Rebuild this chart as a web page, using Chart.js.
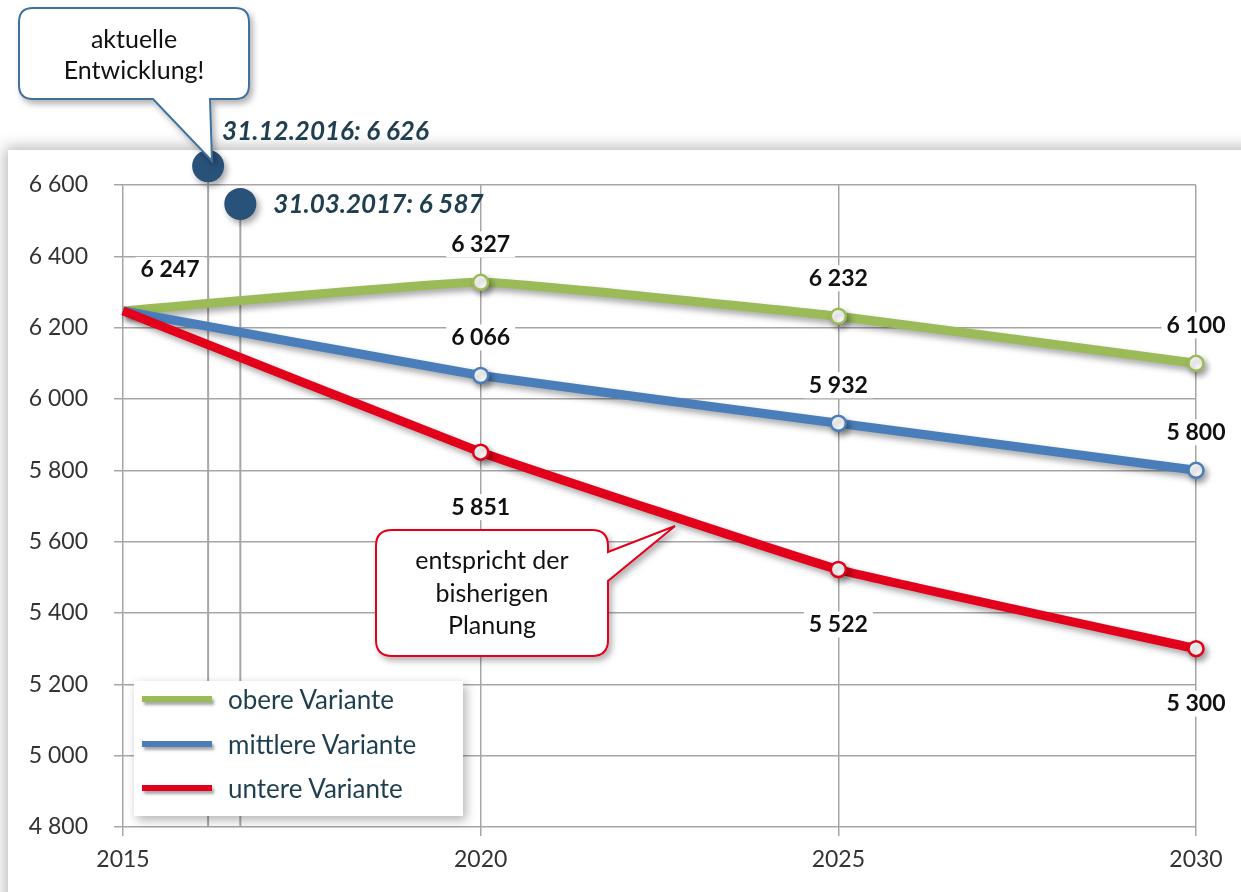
<!DOCTYPE html>
<html lang="de">
<head>
    <meta charset="UTF-8">
    <title>Bevölkerungsprognose 2015-2030</title>
    <script src="https://cdn.jsdelivr.net/npm/chart.js"></script>
    <style>
        body {
            margin: 0;
            width: 1241px;
            height: 892px;
            overflow: hidden;
            background-color: #ffffff;
            font-family: Lato, "Noto Sans", sans-serif;
            position: relative;
        }
        #panel {
            position: absolute;
            left: 8px;
            top: 150px;
            width: 1260px;
            height: 780px;
            background-color: #ffffff;
            box-shadow: 0 0 14px 3px rgba(0, 0, 0, 0.28);
        }
        #chartBox {
            position: absolute;
            left: 0;
            top: 0;
            width: 1241px;
            height: 892px;
        }
        #legend {
            position: absolute;
            left: 134px;
            top: 681px;
            width: 329px;
            height: 135px;
            background-color: #ffffff;
            box-shadow: 3px 4px 10px rgba(0, 0, 0, 0.3);
        }
        .legendItem {
            position: absolute;
            left: 8px;
            height: 34px;
            display: flex;
            align-items: center;
            font-size: 26px;
            color: #1f3f4f;
        }
        .legendItem span.swatch {
            display: inline-block;
            width: 70px;
            height: 6px;
            margin-right: 16px;
            box-shadow: 2px 3px 3px rgba(0, 0, 0, 0.35);
        }
        svg#notes {
            position: absolute;
            left: 0;
            top: 0;
        }
    </style>
</head>
<body>
    <div id="panel"></div>
    <div id="chartBox"><canvas id="popChart"></canvas></div>
    <div id="legend"></div>

    <svg id="notes" width="1241" height="892">
        <defs>
            <filter id="shadow" x="-20%" y="-20%" width="140%" height="150%">
                <feDropShadow dx="3" dy="4" stdDeviation="3" flood-color="#000" flood-opacity="0.3"/>
            </filter>
        </defs>
        <path d="M 33 8 H 235 Q 249 8 249 22 V 85 Q 249 99 235 99 H 210 L 212 161 L 153 99 H 33 Q 19 99 19 85 V 22 Q 19 8 33 8 Z"
              fill="#ffffff" stroke="#41719c" stroke-width="2" filter="url(#shadow)"/>
        <text x="134" y="48" text-anchor="middle" font-family="Lato" font-size="25" fill="#111">aktuelle</text>
        <text x="134" y="79" text-anchor="middle" font-family="Lato" font-size="25" fill="#111">Entwicklung!</text>

        <path d="M 392 530 H 592 Q 608 530 608 546 V 552 L 675 526 L 608 581 V 640 Q 608 656 592 656 H 392 Q 376 656 376 640 V 546 Q 376 530 392 530 Z"
              fill="#ffffff" stroke="#e2001a" stroke-width="2" filter="url(#shadow)"/>
        <text x="492" y="569" text-anchor="middle" font-family="Lato" font-size="25" fill="#111">entspricht der</text>
        <text x="492" y="602" text-anchor="middle" font-family="Lato" font-size="25" fill="#111">bisherigen</text>
        <text x="492" y="634" text-anchor="middle" font-family="Lato" font-size="25" fill="#111">Planung</text>
    </svg>

    <script>
        const years = [2015, 2020, 2025, 2030];
        const obere = [6247, 6327, 6232, 6100];
        const mittlere = [6247, 6066, 5932, 5800];
        const untere = [6247, 5851, 5522, 5300];
        const seriesNames = ['obere Variante', 'mittlere Variante', 'untere Variante'];
        const seriesColors = ['#9bbb59', '#4a7ebb', '#e2001a'];

        // Stichtage (aktuelle Entwicklung), Lage
        const stichtagX = [2016.19, 2016.64];
        const stichtagY = [6653, 6547];
        const stichtagLabels = ['31.12.2016: 6 626', '31.03.2017: 6 587'];

        const yMin = 4800, yMax = 6600, yStep = 200;
        const xMin = 2015, xMax = 2030, xStep = 5;

        function fmt(v) {
            return String(v).replace(/\B(?=(\d{3})+(?!\d))/g, ' ');
        }

        function toPoints(values) {
            return values.map((v, i) => ({ x: years[i], y: v }));
        }

        const seriesValues = [obere, mittlere, untere];
        const datasets = seriesValues.map((vals, i) => ({
            label: seriesNames[i],
            data: toPoints(vals),
            borderColor: seriesColors[i],
            backgroundColor: '#ffffff',
            borderWidth: 9,
            tension: 0.1,
            pointRadius: vals.map((v, j) => j === 0 ? 0 : 7.5),
            pointBorderWidth: 2.5,
            pointBorderColor: seriesColors[i],
            pointBackgroundColor: '#ffffff',
            clip: false,
            order: 2 - i,
        }));

        // senkrechte Linien der Stichtage
        stichtagX.forEach((x, i) => {
            datasets.push({
                label: 'line' + i,
                data: [{ x: x, y: stichtagY[i] }, { x: x, y: yMin }],
                borderColor: '#a6a6a6',
                borderWidth: 2,
                pointRadius: 0,
                clip: false,
                order: 10,
            });
        });

        const shadowPlugin = {
            id: 'shadow',
            beforeDatasetDraw(chart, args) {
                const ds = chart.data.datasets[args.index];
                if (ds.label.startsWith('line')) return;
                const ctx = chart.ctx;
                ctx.save();
                ctx.shadowColor = 'rgba(0, 0, 0, 0.35)';
                ctx.shadowBlur = 6;
                ctx.shadowOffsetX = 3;
                ctx.shadowOffsetY = 4;
            },
            afterDatasetDraw(chart, args) {
                const ds = chart.data.datasets[args.index];
                if (ds.label.startsWith('line')) return;
                chart.ctx.restore();
            }
        };

        const labelPlugin = {
            id: 'valueLabels',
            afterDatasetsDraw(chart) {
                const ctx = chart.ctx;
                const xs = chart.scales.x, ys = chart.scales.y;
                ctx.save();

                // Stichtag-Punkte (liegen teils über der Zeichenfläche)
                ctx.shadowColor = 'rgba(0, 0, 0, 0.35)';
                ctx.shadowBlur = 6;
                ctx.shadowOffsetX = 3;
                ctx.shadowOffsetY = 4;
                ctx.fillStyle = '#29527a';
                stichtagX.forEach((x, i) => {
                    ctx.beginPath();
                    ctx.arc(xs.getPixelForValue(x), ys.getPixelForValue(stichtagY[i]), 16, 0, Math.PI * 2);
                    ctx.fill();
                });
                ctx.shadowColor = 'transparent';

                ctx.textAlign = 'center';
                ctx.textBaseline = 'middle';
                ctx.font = 'bold 23px Lato';
                for (let i = 0; i < 3; i++) {
                    const meta = chart.getDatasetMeta(i);
                    meta.data.forEach((pt, j) => {
                        if (j === 0 && i !== 0) return;
                        const text = fmt(seriesValues[i][j]);
                        let x = pt.x, y = pt.y;
                        if (j === 0) { x += 47; y -= 41; }
                        else if (i === 2) { y += 55; }
                        else { y -= 38; }
                        const w = ctx.measureText(text).width + 10;
                        ctx.fillStyle = '#ffffff';
                        ctx.fillRect(x - w / 2, y - 13, w, 26);
                        ctx.fillStyle = '#111111';
                        ctx.fillText(text, x, y);
                    });
                }

                ctx.font = 'italic bold 26px Lato';
                ctx.textAlign = 'left';
                ctx.fillStyle = '#1f3f4f';
                stichtagX.forEach((x, j) => {
                    const px = xs.getPixelForValue(x), py = ys.getPixelForValue(stichtagY[j]);
                    if (j === 0) ctx.fillText(stichtagLabels[j], px + 14, py - 34);
                    else ctx.fillText(stichtagLabels[j], px + 33, py + 1);
                });
                ctx.restore();
            }
        };

        const ctx = document.getElementById('popChart').getContext('2d');
        new Chart(ctx, {
            type: 'line',
            data: { datasets: datasets },
            plugins: [shadowPlugin, labelPlugin],
            options: {
                responsive: true,
                maintainAspectRatio: false,
                animation: false,
                layout: { padding: { left: 0, right: 45, top: 185, bottom: 0 } },
                plugins: {
                    legend: { display: false },
                    tooltip: { enabled: false },
                },
                scales: {
                    x: {
                        type: 'linear',
                        min: xMin,
                        max: xMax,
                        afterFit: (scale) => { scale.height = 65; },
                        ticks: {
                            stepSize: xStep,
                            padding: 10,
                            color: '#333333',
                            font: { family: 'Lato', size: 23 },
                            callback: (v) => String(v),
                        },
                        grid: { color: '#a6a6a6', lineWidth: 1.5, tickLength: 9 },
                        border: { display: false },
                    },
                    y: {
                        min: yMin,
                        max: yMax,
                        afterFit: (scale) => { scale.width = 123; },
                        ticks: {
                            stepSize: yStep,
                            padding: 26,
                            color: '#333333',
                            font: { family: 'Lato', size: 23 },
                            callback: (v) => fmt(v),
                        },
                        grid: { color: '#a6a6a6', lineWidth: 1.5, tickLength: 9 },
                        border: { display: false },
                    },
                },
            },
        });

        // Legende
        const legend = document.getElementById('legend');
        seriesNames.forEach((name, i) => {
            const item = document.createElement('div');
            item.className = 'legendItem';
            item.style.top = (1 + i * 44.5) + 'px';
            item.innerHTML = '<span class="swatch" style="background:' + seriesColors[i] + '"></span>' + name;
            legend.appendChild(item);
        });
    </script>
</body>
</html>
